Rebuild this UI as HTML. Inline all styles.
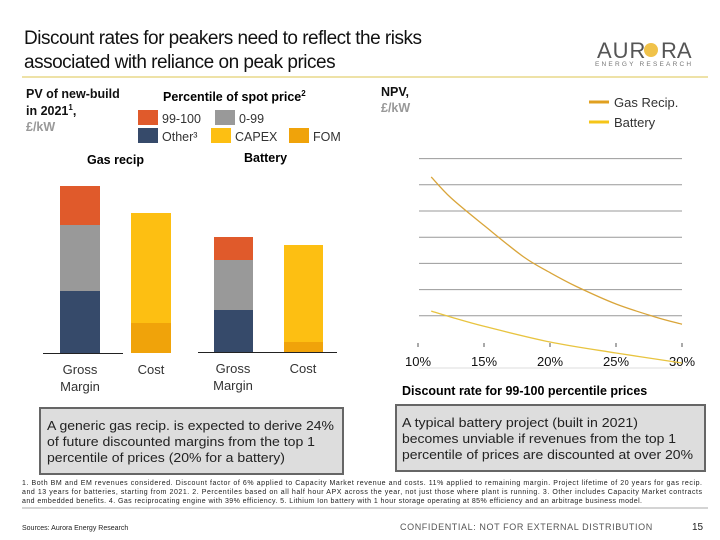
<!DOCTYPE html>
<html><head><meta charset="utf-8"><style>
body{margin:0;width:720px;height:540px;overflow:hidden;background:#fff;font-family:"Liberation Sans",sans-serif;}
svg{position:absolute;left:0;top:0}
</style></head><body>
<svg id="c" width="720" height="540" xmlns="http://www.w3.org/2000/svg">
<g font-size="19" fill="#111" style="letter-spacing:-0.5px">
<text x="24" y="44">Discount rates for peakers need to reflect the risks</text>
<text x="24" y="68">associated with reliance on peak prices</text></g>
<g>
<text x="597" y="58" font-size="22" fill="#555" style="letter-spacing:1px">AUR</text>
<circle cx="651" cy="50" r="7" fill="#f0c24a"/>
<text x="661" y="58" font-size="22" fill="#555">RA</text>
<text x="595" y="66" font-size="6.5" fill="#777" style="letter-spacing:2.2px">ENERGY RESEARCH</text></g>
<line x1="22" y1="77" x2="708" y2="77" stroke="#e8d98a" stroke-width="1.5"/>
<g font-size="12.5" font-weight="bold">
<text x="26" y="98" fill="#111">PV of new-build</text>
<text x="26" y="115" fill="#111">in 2021<tspan font-size="8" dy="-5">1</tspan><tspan dy="5">,</tspan></text>
<text x="26" y="131" fill="#999">£/kW</text></g>
<text x="163" y="101" font-size="12.5" font-weight="bold">Percentile of spot price<tspan font-size="8" dy="-5">2</tspan></text>
<g font-size="12.5" fill="#333">
<rect x="138" y="110" width="20" height="15" fill="#e05a2b"/><text x="162" y="123">99-100</text>
<rect x="215" y="110" width="20" height="15" fill="#999"/><text x="239" y="123">0-99</text>
<rect x="138" y="128" width="20" height="15" fill="#364a6a"/><text x="162" y="141">Other³</text>
<rect x="211" y="128" width="20" height="15" fill="#fdbf12"/><text x="235" y="141">CAPEX</text>
<rect x="289" y="128" width="20" height="15" fill="#f0a30a"/><text x="313" y="141">FOM</text></g>
<text x="87" y="164" font-size="12.5" font-weight="bold">Gas recip</text>
<text x="244" y="162" font-size="12.5" font-weight="bold">Battery</text>
<g id="bars"></g>
<g font-size="13" fill="#333" text-anchor="middle">
<text x="80" y="374">Gross</text><text x="80" y="391">Margin</text><text x="151" y="374">Cost</text>
<text x="233" y="373">Gross</text><text x="233" y="390">Margin</text><text x="303" y="373">Cost</text></g>
<g font-size="12.5" font-weight="bold">
<text x="381" y="96" fill="#111">NPV,</text><text x="381" y="112" fill="#999">£/kW</text></g>
<g font-size="13" fill="#333">
<line x1="589" y1="102" x2="609" y2="102" stroke="#e0a020" stroke-width="3"/><text x="614" y="107">Gas Recip.</text>
<line x1="589" y1="122" x2="609" y2="122" stroke="#f5c518" stroke-width="3"/><text x="614" y="127">Battery</text></g>
<g id="linechart"></g>
<text x="402" y="395" font-size="12.5" font-weight="bold">Discount rate for 99-100 percentile prices</text>
<g>
<rect x="40" y="408" width="303" height="66" fill="#ddd" stroke="#666" stroke-width="2"/>
<text font-size="13" fill="#222"><tspan x="47" y="430" textLength="287" lengthAdjust="spacingAndGlyphs">A generic gas recip. is expected to derive 24%</tspan><tspan x="47" y="446" textLength="268" lengthAdjust="spacingAndGlyphs">of future discounted margins from the top 1</tspan><tspan x="47" y="462" textLength="238" lengthAdjust="spacingAndGlyphs">percentile of prices (20% for a battery)</tspan></text></g>
<g>
<rect x="396" y="405" width="309" height="66" fill="#ddd" stroke="#666" stroke-width="2"/>
<text font-size="13" fill="#222"><tspan x="402" y="427" textLength="236" lengthAdjust="spacingAndGlyphs">A typical battery project (built in 2021)</tspan><tspan x="402" y="443" textLength="274" lengthAdjust="spacingAndGlyphs">becomes unviable if revenues from the top 1</tspan><tspan x="402" y="459" textLength="291" lengthAdjust="spacingAndGlyphs">percentile of prices are discounted at over 20%</tspan></text></g>
<g font-size="7" fill="#222">
<text x="22" y="485" textLength="680">1. Both BM and EM revenues considered. Discount factor of 6% applied to Capacity Market revenue and costs. 11% applied to remaining margin. Project lifetime of 20 years for gas recip.</text>
<text x="22" y="494" textLength="680">and 13 years for batteries, starting from 2021. 2. Percentiles based on all half hour APX across the year, not just those where plant is running. 3. Other includes Capacity Market contracts</text>
<text x="22" y="503" textLength="620">and embedded benefits. 4. Gas reciprocating engine with 39% efficiency. 5. Lithium Ion battery with 1 hour storage operating at 85% efficiency and an arbitrage business model.</text></g>
<line x1="22" y1="508" x2="708" y2="508" stroke="#aaa"/>
<text x="22" y="530" font-size="7" fill="#222">Sources: Aurora Energy Research</text>
<text x="400" y="530" font-size="9" fill="#555" style="letter-spacing:0.6px">CONFIDENTIAL: NOT FOR EXTERNAL DISTRIBUTION</text>
<text x="692" y="530" font-size="10" fill="#222">15</text>
</svg>
<script>
// Bar data (£/kW, estimated)
const barGroups=["Gas recip","Battery"];
const gmOther=[124,84];
const gm0to99=[132,100];
const gm99to100=[78,46];
const costFOM=[60,20];
const costCAPEX=[220,194];
// Line data
const rates=[11,12.5,15,18,20,22,25,28,30];
const gasNPV=[6.3,5.5,4.45,3.25,2.65,2.12,1.45,0.95,0.68];
const batRates=[11,12.5,15,20,25,30];
const batNPV=[1.18,0.95,0.6,0,-0.42,-0.8];
const gridLevels=[1,2,3,4,5,6,7];
const xTicks=["10%","15%","20%","25%","30%"];
const xTickVals=[10,15,20,25,30];

const NS="http://www.w3.org/2000/svg";
function mk(p,t,a){const e=document.createElementNS(NS,t);for(const k in a)e.setAttribute(k,a[k]);p.appendChild(e);return e;}
const bars=document.getElementById('bars');
const baseY=[353,352], gmX=[60,214], costX=[131,284], bw=[40,39], axL=[[43,123],[198,337]];
const ys=v=>v*0.5;
for(let i=0;i<2;i++){
  let y=baseY[i];
  [[gmOther[i],'#364a6a','gm-other'],[gm0to99[i],'#999','gm-0-99'],[gm99to100[i],'#e05a2b','gm-99-100']].forEach(s=>{
    const h=ys(s[0]);y-=h;
    const r=mk(bars,'rect',{x:gmX[i],y:y,width:bw[i],height:h,fill:s[1]});
    
    
  });
  y=baseY[i];
  [[costFOM[i],'#f0a30a','cost-fom'],[costCAPEX[i],'#fdbf12','cost-capex']].forEach(s=>{
    const h=ys(s[0]);y-=h;
    const r=mk(bars,'rect',{x:costX[i],y:y,width:bw[i],height:h,fill:s[1]});
    
    
  });
  const l=mk(bars,'line',{x1:axL[i][0],x2:axL[i][1],y1:baseY[i]+0.5,y2:baseY[i]+0.5,stroke:'#222','stroke-width':1});
  
  
}
const lc=document.getElementById('linechart');
const xS=r=>418+(r-10)*13.2, yS=v=>342-v*26.2;
gridLevels.forEach(g=>{
  const l=mk(lc,'line',{x1:419,x2:682,y1:yS(g),y2:yS(g),stroke:'#999','stroke-width':1});
  
  
});
const base=mk(lc,'line',{x1:419,x2:682,y1:368,y2:368,stroke:'#ddd'});


xTickVals.forEach((v,i)=>{
  const tm=mk(lc,'line',{x1:xS(v),x2:xS(v),y1:343,y2:347,stroke:'#555'});
  
  
  const t=mk(lc,'text',{x:xS(v),y:366,'font-size':13,'text-anchor':'middle',fill:'#111'});
  t.textContent=xTicks[i];
  
  
});
function path(xs,vs){
  const P=xs.map((r,i)=>[xS(r),yS(vs[i])]);
  let d='M'+P[0][0].toFixed(1)+','+P[0][1].toFixed(1);
  for(let i=0;i<P.length-1;i++){
    const p0=P[Math.max(0,i-1)],p1=P[i],p2=P[i+1],p3=P[Math.min(P.length-1,i+2)];
    const c1=[p1[0]+(p2[0]-p0[0])/6,p1[1]+(p2[1]-p0[1])/6];
    const c2=[p2[0]-(p3[0]-p1[0])/6,p2[1]-(p3[1]-p1[1])/6];
    d+=' C'+c1.map(v=>v.toFixed(1)).join(',')+' '+c2.map(v=>v.toFixed(1)).join(',')+' '+p2.map(v=>v.toFixed(1)).join(',');
  }
  return d;
}
const gp=mk(lc,'path',{d:path(rates,gasNPV),fill:'none',stroke:'#d9a53a','stroke-width':1.3});


const bp=mk(lc,'path',{d:path(batRates,batNPV),fill:'none',stroke:'#e8c440','stroke-width':1.3});


</script>
</body></html>
